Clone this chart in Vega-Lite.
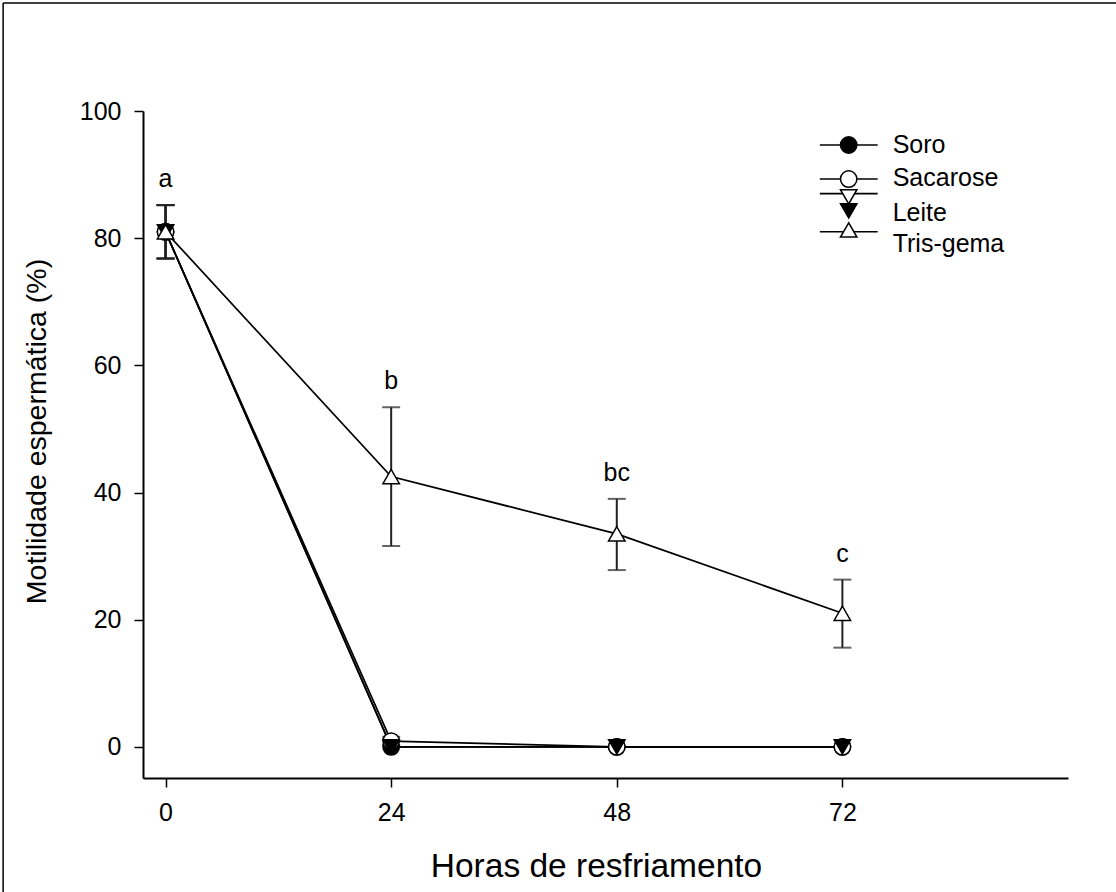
{
  "$schema": "https://vega.github.io/schema/vega-lite/v6.json",
  "autosize": {"type": "none"},
  "padding": {"left": 143, "top": 111, "right": 48, "bottom": 114},
  "width": 925,
  "height": 667,
  "background": "white",
  "datasets": {
    "motility": [
      {"series": "Soro", "hours": 0, "value": 81.0, "lo": 76.8, "hi": 85.2, "letter": ""},
      {"series": "Soro", "hours": 24, "value": 0.0, "lo": 0.0, "hi": 0.0, "letter": ""},
      {"series": "Soro", "hours": 48, "value": 0.0, "lo": 0.0, "hi": 0.0, "letter": ""},
      {"series": "Soro", "hours": 72, "value": 0.0, "lo": 0.0, "hi": 0.0, "letter": ""},
      {"series": "Sacarose", "hours": 0, "value": 81.0, "lo": 76.8, "hi": 85.2, "letter": ""},
      {"series": "Sacarose", "hours": 24, "value": 0.9, "lo": 0.3, "hi": 1.6, "letter": ""},
      {"series": "Sacarose", "hours": 48, "value": 0.0, "lo": 0.0, "hi": 0.0, "letter": ""},
      {"series": "Sacarose", "hours": 72, "value": 0.0, "lo": 0.0, "hi": 0.0, "letter": ""},
      {"series": "Leite", "hours": 0, "value": 81.0, "lo": 76.8, "hi": 85.2, "letter": ""},
      {"series": "Leite", "hours": 24, "value": 0.0, "lo": 0.0, "hi": 0.0, "letter": ""},
      {"series": "Leite", "hours": 48, "value": 0.0, "lo": 0.0, "hi": 0.0, "letter": ""},
      {"series": "Leite", "hours": 72, "value": 0.0, "lo": 0.0, "hi": 0.0, "letter": ""},
      {"series": "Tris-gema", "hours": 0, "value": 81.0, "lo": 76.8, "hi": 85.2, "letter": "a"},
      {"series": "Tris-gema", "hours": 24, "value": 42.5, "lo": 31.6, "hi": 53.4, "letter": "b"},
      {"series": "Tris-gema", "hours": 48, "value": 33.5, "lo": 27.8, "hi": 39.0, "letter": "bc"},
      {"series": "Tris-gema", "hours": 72, "value": 21.0, "lo": 15.6, "hi": 26.3, "letter": "c"}
    ]
  },
  "config": {
    "font": "Liberation Sans",
    "view": {"stroke": null},
    "axis": {
      "grid": false,
      "domainColor": "black",
      "tickColor": "black",
      "labelColor": "black",
      "titleColor": "black",
      "labelFont": "Liberation Sans",
      "titleFont": "Liberation Sans",
      "titleFontWeight": "normal"
    }
  },
  "layer": [
    {
      "data": {"name": "motility"},
      "encoding": {
        "x": {
          "field": "hours",
          "type": "quantitative",
          "scale": {"domain": [-2.4, 96], "nice": false, "zero": false},
          "axis": {
            "values": [0, 24, 48, 72],
            "title": "Horas de resfriamento",
            "tickSize": 9,
            "tickWidth": 1.5,
            "domainWidth": 2,
            "labelFontSize": 25,
            "labelPadding": 13,
            "labelFlush": false,
            "titleFontSize": 33.5,
            "titlePadding": 25,
            "titleX": 453
          }
        },
        "y": {
          "field": "value",
          "type": "quantitative",
          "scale": {"domain": [-4.9, 100], "nice": false, "zero": false},
          "axis": {
            "values": [0, 20, 40, 60, 80, 100],
            "title": "Motilidade espermática (%)",
            "tickSize": 9,
            "tickWidth": 1.5,
            "domainWidth": 2,
            "labelFontSize": 25,
            "labelPadding": 13,
            "labelFlush": false,
            "titleFontSize": 28.5,
            "titlePadding": 28,
            "titleY": 320
          }
        }
      },
      "layer": [
        {
          "mark": {"type": "line", "color": "black", "strokeWidth": 1.7},
          "encoding": {
            "detail": {"field": "series", "type": "nominal"},
            "order": {"field": "hours", "type": "quantitative"}
          }
        },
        {
          "transform": [{"filter": "datum.hi > datum.lo"}],
          "mark": {"type": "rule", "color": "#222222", "strokeWidth": 2},
          "encoding": {
            "y": {"field": "lo", "type": "quantitative"},
            "y2": {"field": "hi"}
          }
        },
        {
          "transform": [{"filter": "datum.hi > datum.lo"}],
          "mark": {"type": "tick", "orient": "horizontal", "color": "#222222", "size": 18, "thickness": 2},
          "encoding": {"y": {"field": "lo", "type": "quantitative"}}
        },
        {
          "transform": [{"filter": "datum.hi > datum.lo"}],
          "mark": {"type": "tick", "orient": "horizontal", "color": "#222222", "size": 18, "thickness": 2},
          "encoding": {"y": {"field": "hi", "type": "quantitative"}}
        },
        {
          "mark": {"type": "point", "filled": true, "stroke": "black", "strokeWidth": 1.5, "opacity": 1, "size": 270},
          "encoding": {
            "shape": {
              "field": "series",
              "type": "nominal",
              "scale": {"domain": ["Soro", "Sacarose", "Leite", "Tris-gema"], "range": ["circle", "circle", "triangle-down", "triangle-up"]},
              "legend": null
            },
            "fill": {
              "field": "series",
              "type": "nominal",
              "scale": {"domain": ["Soro", "Sacarose", "Leite", "Tris-gema"], "range": ["black", "white", "black", "white"]},
              "legend": null
            }
          }
        },
        {
          "transform": [{"filter": "datum.letter != ''"}],
          "mark": {"type": "text", "fontSize": 25, "color": "black", "baseline": "alphabetic", "align": "center", "dy": -18},
          "encoding": {
            "y": {"field": "hi", "type": "quantitative"},
            "text": {"field": "letter"}
          }
        }
      ]
    },
    {
      "data": {"values": [{"series": "Soro"}]},
      "mark": {"type": "rule", "color": "black", "strokeWidth": 1.6},
      "encoding": {"x": {"datum": 69.6}, "x2": {"datum": 75.75}, "y": {"datum": 94.65}}
    },
    {
      "data": {"values": [{"series": "Sacarose"}]},
      "mark": {"type": "rule", "color": "black", "strokeWidth": 1.6},
      "encoding": {"x": {"datum": 69.6}, "x2": {"datum": 75.75}, "y": {"datum": 89.3}}
    },
    {
      "data": {"values": [{"series": "Leite"}]},
      "mark": {"type": "rule", "color": "black", "strokeWidth": 1.6},
      "encoding": {"x": {"datum": 69.6}, "x2": {"datum": 75.75}, "y": {"datum": 87.0}}
    },
    {
      "data": {"values": [{"series": "Tris-gema"}]},
      "mark": {"type": "rule", "color": "black", "strokeWidth": 1.6},
      "encoding": {"x": {"datum": 69.6}, "x2": {"datum": 75.75}, "y": {"datum": 81.0}}
    },
    {
      "data": {"values": [{"series": "Soro"}]},
      "mark": {"type": "point", "shape": "circle", "filled": true, "fill": "black", "stroke": "black", "strokeWidth": 1.5, "opacity": 1, "size": 270},
      "encoding": {"x": {"datum": 72.67}, "y": {"datum": 94.65}}
    },
    {
      "data": {"values": [{"series": "Sacarose"}]},
      "mark": {"type": "point", "shape": "circle", "filled": true, "fill": "white", "stroke": "black", "strokeWidth": 1.5, "opacity": 1, "size": 270},
      "encoding": {"x": {"datum": 72.67}, "y": {"datum": 89.3}}
    },
    {
      "data": {"values": [{"series": "Leite"}]},
      "mark": {"type": "point", "shape": "triangle-down", "filled": true, "fill": "white", "stroke": "black", "strokeWidth": 1.5, "opacity": 1, "size": 270},
      "encoding": {"x": {"datum": 72.67}, "y": {"datum": 86.5}}
    },
    {
      "data": {"values": [{"series": "Leite"}]},
      "mark": {"type": "point", "shape": "triangle-down", "filled": true, "fill": "black", "stroke": "black", "strokeWidth": 1.5, "opacity": 1, "size": 270},
      "encoding": {"x": {"datum": 72.67}, "y": {"datum": 84.3}}
    },
    {
      "data": {"values": [{"series": "Tris-gema"}]},
      "mark": {"type": "point", "shape": "triangle-up", "filled": true, "fill": "white", "stroke": "black", "strokeWidth": 1.5, "opacity": 1, "size": 270},
      "encoding": {"x": {"datum": 72.67}, "y": {"datum": 81.3}}
    },
    {
      "data": {"values": [{"series": "Soro"}]},
      "mark": {"type": "text", "fontSize": 25, "color": "black", "align": "left", "baseline": "middle"},
      "encoding": {"x": {"datum": 77.35}, "y": {"datum": 94.65}, "text": {"field": "series"}}
    },
    {
      "data": {"values": [{"series": "Sacarose"}]},
      "mark": {"type": "text", "fontSize": 25, "color": "black", "align": "left", "baseline": "middle"},
      "encoding": {"x": {"datum": 77.35}, "y": {"datum": 89.46}, "text": {"field": "series"}}
    },
    {
      "data": {"values": [{"series": "Leite"}]},
      "mark": {"type": "text", "fontSize": 25, "color": "black", "align": "left", "baseline": "middle"},
      "encoding": {"x": {"datum": 77.35}, "y": {"datum": 84.0}, "text": {"field": "series"}}
    },
    {
      "data": {"values": [{"series": "Tris-gema"}]},
      "mark": {"type": "text", "fontSize": 25, "color": "black", "align": "left", "baseline": "middle"},
      "encoding": {"x": {"datum": 77.35}, "y": {"datum": 79.1}, "text": {"field": "series"}}
    },
    {
      "data": {"values": [{"edge": "left"}]},
      "mark": {"type": "rule", "color": "black", "strokeWidth": 1.5, "clip": false},
      "encoding": {"x": {"datum": -17.28}, "y": {"datum": 117.0}, "y2": {"datum": -23.0}}
    },
    {
      "data": {"values": [{"edge": "top"}]},
      "mark": {"type": "rule", "color": "black", "strokeWidth": 1.5, "clip": false},
      "encoding": {"x": {"datum": -17.28}, "x2": {"datum": 101.2}, "y": {"datum": 117.0}}
    }
  ]
}
